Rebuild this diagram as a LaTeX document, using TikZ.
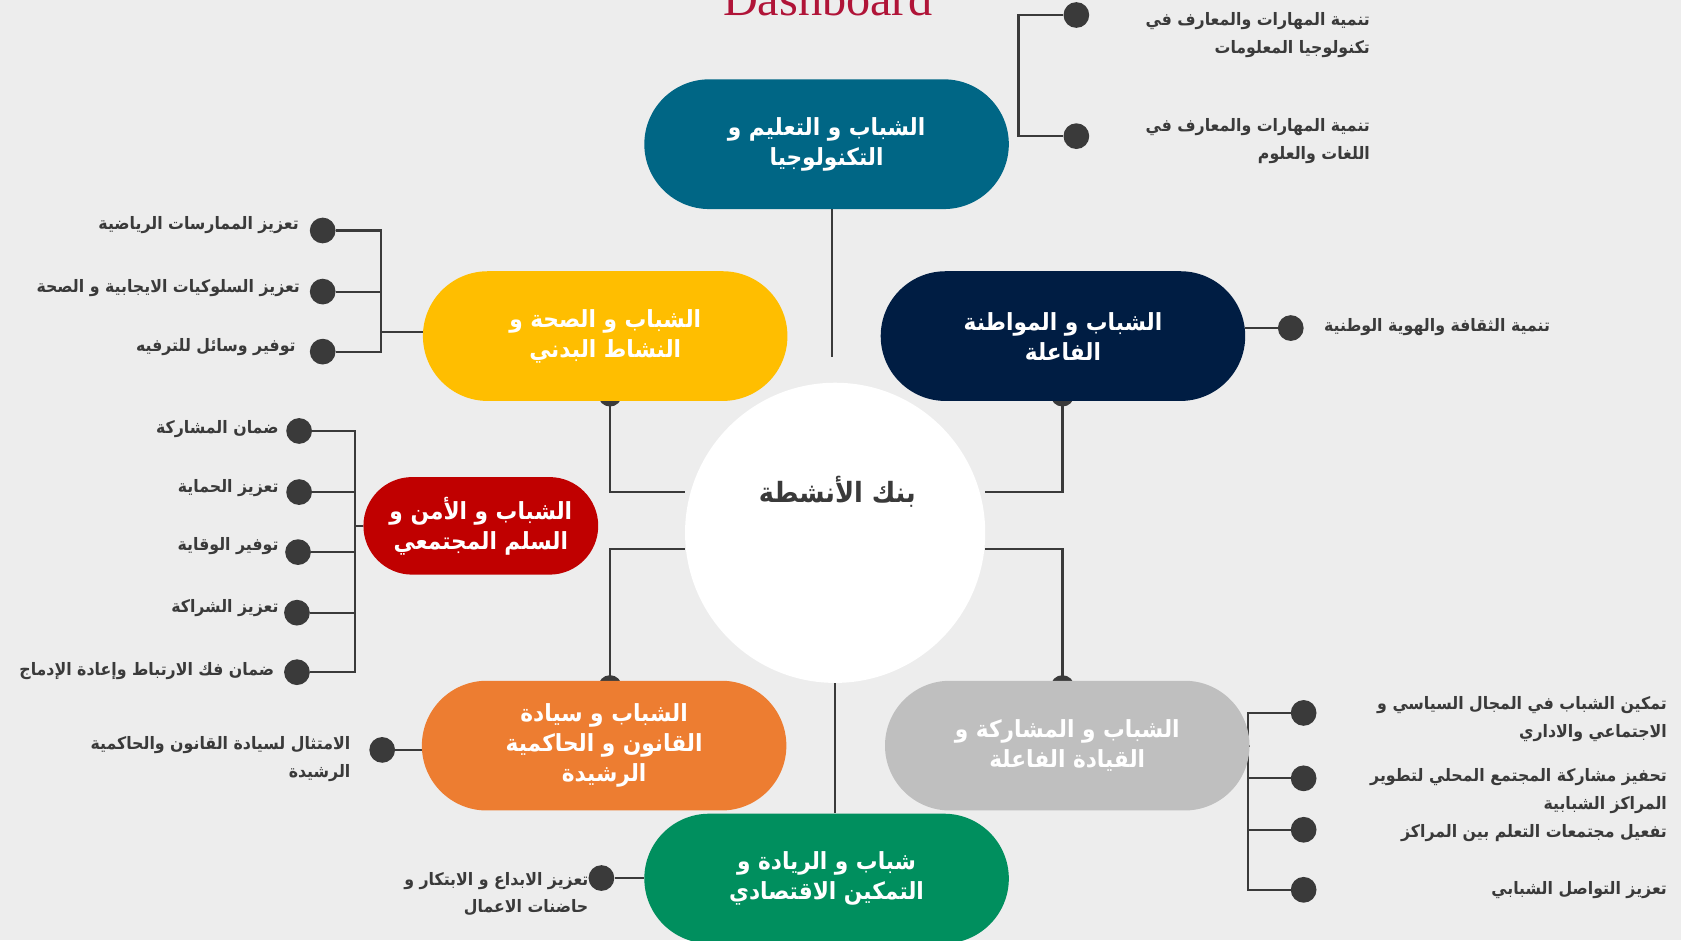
\documentclass[tikz,border=0pt]{standalone}
\usepackage{fontspec}
\usetikzlibrary{shapes.misc}
\TeXXeTstate=1
\newfontfamily\arabicfont[Script=Arabic,FakeStretch=0.92]{DejaVu Sans}
\newfontfamily\titlefont{Liberation Serif}
\newcommand{\artxt}[1]{\beginR #1\endR}

\definecolor{bgcol}{RGB}{237,237,237}
\definecolor{darkline}{RGB}{58,58,58}
\definecolor{titlered}{RGB}{176,20,56}
\definecolor{eduteal}{RGB}{0,102,133}
\definecolor{healthyellow}{RGB}{255,190,0}
\definecolor{citizennavy}{RGB}{0,29,67}
\definecolor{safetyred}{RGB}{192,0,0}
\definecolor{laworange}{RGB}{237,125,49}
\definecolor{leadgray}{RGB}{191,191,191}
\definecolor{bizgreen}{RGB}{0,143,94}

\pgfdeclarelayer{back}
\pgfsetlayers{back,main}

\tikzset{
  wire/.style={draw=darkline, line width=2pt},
  bullet/.style={circle, fill=darkline, minimum size=24pt, inner sep=0pt},
  pill/.style={rounded rectangle, minimum width=340pt, minimum height=121pt,
    inner sep=0pt, text=white, align=center,
    font=\arabicfont\bfseries\fontsize{22}{28}\selectfont},
  item/.style={anchor=east, align=right, text=darkline, inner sep=0pt,
    font=\arabicfont\bfseries\fontsize{16}{26}\selectfont},
  hub/.style={circle, fill=white, minimum size=280pt, inner sep=0pt},
}

\begin{document}
\begin{tikzpicture}[x=1pt,y=-1pt]
    \useasboundingbox (0,0) rectangle (1568,877);

    % centre
    \node[hub] at (779,497) (hub) {};
    \node[text=darkline, font=\arabicfont\bfseries\fontsize{26}{32}\selectfont] at (781,459) (hubt) {\artxt{بنك الأنشطة}};
    \node[anchor=base, text=titlered, font=\titlefont\fontsize{45}{50}\selectfont] at (772,14) (title) {Dashboard};

    % themes
    \node[pill, fill=eduteal]      at (771,134.5) (edu)   {\artxt{الشباب و التعليم و}\\\artxt{التكنولوجيا}};
    \node[pill, fill=healthyellow] at (564.5,313.5) (health) {\artxt{الشباب و الصحة و}\\\artxt{النشاط البدني}};
    \node[pill, fill=citizennavy]  at (991.5,313.5) (citizen) {\artxt{الشباب و المواطنة}\\\artxt{الفاعلة}};
    \node[pill, fill=safetyred, minimum width=219pt, minimum height=91pt] at (448.5,490.5) (safety) {\artxt{الشباب و الأمن و}\\\artxt{السلم المجتمعي}};
    \node[pill, fill=laworange]    at (563.5,695.5) (law)   {\artxt{الشباب و سيادة}\\\artxt{القانون و الحاكمية}\\\artxt{الرشيدة}};
    \node[pill, fill=leadgray]     at (995.5,695.5) (lead)  {\artxt{الشباب و المشاركة و}\\\artxt{القيادة الفاعلة}};
    \node[pill, fill=bizgreen]     at (771,819.5) (biz)     {\artxt{شباب و الريادة و}\\\artxt{التمكين الاقتصادي}};

    % bullets
    \node[bullet] at (1004,14)  (edu1) {};
    \node[bullet] at (1004,127) (edu2) {};
    \node[bullet] at (301,215) (health1) {};
    \node[bullet] at (301,272) (health2) {};
    \node[bullet] at (301,328) (health3) {};
    \node[bullet] at (1204,306) (citizen1) {};
    \node[bullet] at (279,402) (safety1) {};
    \node[bullet] at (279,459) (safety2) {};
    \node[bullet] at (278,515) (safety3) {};
    \node[bullet] at (277,571.5) (safety4) {};
    \node[bullet] at (277,627) (safety5) {};
    \node[bullet] at (356.5,699.5) (law1) {};
    \node[bullet] at (561,819) (biz1) {};
    \node[bullet] at (1216,665) (lead1) {};
    \node[bullet] at (1216,726) (lead2) {};
    \node[bullet] at (1216,774) (lead3) {};
    \node[bullet] at (1216,830) (lead4) {};

    % labels
    \node[item] at (1278,33)  (edu1t) {\artxt{تنمية المهارات والمعارف في}\\\artxt{تكنولوجيا المعلومات}};
    \node[item] at (1278,132) (edu2t) {\artxt{تنمية المهارات والمعارف في}\\\artxt{اللغات والعلوم}};
    \node[item] at (279,210) (health1t) {\artxt{تعزيز الممارسات الرياضية}};
    \node[item] at (280,269) (health2t) {\artxt{تعزيز السلوكيات الايجابية و الصحة}};
    \node[item] at (276,324) (health3t) {\artxt{توفير وسائل للترفيه}};
    \node[item] at (1446,305) (citizen1t) {\artxt{تنمية الثقافة والهوية الوطنية}};
    \node[item] at (260,400) (safety1t) {\artxt{ضمان المشاركة}};
    \node[item] at (260,455) (safety2t) {\artxt{تعزيز الحماية}};
    \node[item] at (260,509) (safety3t) {\artxt{توفير الوقاية}};
    \node[item] at (260,567) (safety4t) {\artxt{تعزيز الشراكة}};
    \node[item] at (256,626) (safety5t) {\artxt{ضمان فك الارتباط وإعادة الإدماج}};
    \node[item] at (327,708) (law1t) {\artxt{الامتثال لسيادة القانون والحاكمية}\\\artxt{الرشيدة}};
    \node[item] at (549,834) (biz1t) {\artxt{تعزيز الابداع و الابتكار و}\\\artxt{حاضنات الاعمال}};
    \node[item] at (1555,671) (lead1t) {\artxt{تمكين الشباب في المجال السياسي و}\\\artxt{الاجتماعي والاداري}};
    \node[item] at (1555,738) (lead2t) {\artxt{تحفيز مشاركة المجتمع المحلي لتطوير}\\\artxt{المراكز الشبابية}};
    \node[item] at (1555,777) (lead3t) {\artxt{تفعيل مجتمعات التعلم بين المراكز}};
    \node[item] at (1555,830) (lead4t) {\artxt{تعزيز التواصل الشبابي}};

    \coordinate (edux) at (950,0);
    \coordinate (healthx) at (355,310);
    \coordinate (safetyx) at (331,0);
    \coordinate (leadx) at (1164,0);
    \coordinate (eduend) at (776,333);
    \coordinate (healthj) at (569,459);
    \coordinate (citizenj) at (991,459);
    \coordinate (lawj) at (569,512);
    \coordinate (leadj) at (991,512);

    \begin{pgfonlayer}{back}
    \fill[bgcol] (0,0) rectangle (1568,877);

    % centre links
    \draw[wire] (edu.south -| eduend) -- (eduend);
    \draw[wire] (health.south -| healthj) |- (hub.west |- healthj);
    \draw[wire] (citizen.south -| citizenj) |- (hub.east |- citizenj);
    \draw[wire] (hub.west |- lawj) -| (law.north -| lawj);
    \draw[wire] (hub.east |- leadj) -| (lead.north -| leadj);
    \draw[wire] (hub.south) -- (biz.north -| hub.south);
    \fill[darkline] (health.south -| healthj) ++(0,-6) circle (11pt);
    \fill[darkline] (citizen.south -| citizenj) ++(0,-6) circle (11pt);
    \fill[darkline] (law.north -| lawj) ++(0,6) circle (11pt);
    \fill[darkline] (lead.north -| leadj) ++(0,6) circle (11pt);

    % bullet links
    \draw[wire] (edu1) -- (edu1 -| edux) -- (edu2 -| edux) -- (edu2);
    \draw[wire] (health1) -- (health1 -| healthx) -- (health3 -| healthx) -- (health3);
    \draw[wire] (health2) -- (health2 -| healthx);
    \draw[wire] (healthx) -- (health.west |- healthx);
    \draw[wire] (citizen1) -- (citizen.east |- citizen1);
    \draw[wire] (safety1) -- (safety1 -| safetyx) -- (safety5 -| safetyx) -- (safety5);
    \draw[wire] (safety2) -- (safety2 -| safetyx);
    \draw[wire] (safety3) -- (safety3 -| safetyx);
    \draw[wire] (safety4) -- (safety4 -| safetyx);
    \draw[wire] (safety.west) -- (safety.west -| safetyx);
    \draw[wire] (law1) -- (law.west |- law1);
    \draw[wire] (biz1) -- (biz.west |- biz1);
    \draw[wire] (lead1) -- (lead1 -| leadx) -- (lead4 -| leadx) -- (lead4);
    \draw[wire] (lead2) -- (lead2 -| leadx);
    \draw[wire] (lead3) -- (lead3 -| leadx);
    \draw[wire] (lead.east) -- (lead.east -| leadx);
    \end{pgfonlayer}
\end{tikzpicture}
\end{document}
